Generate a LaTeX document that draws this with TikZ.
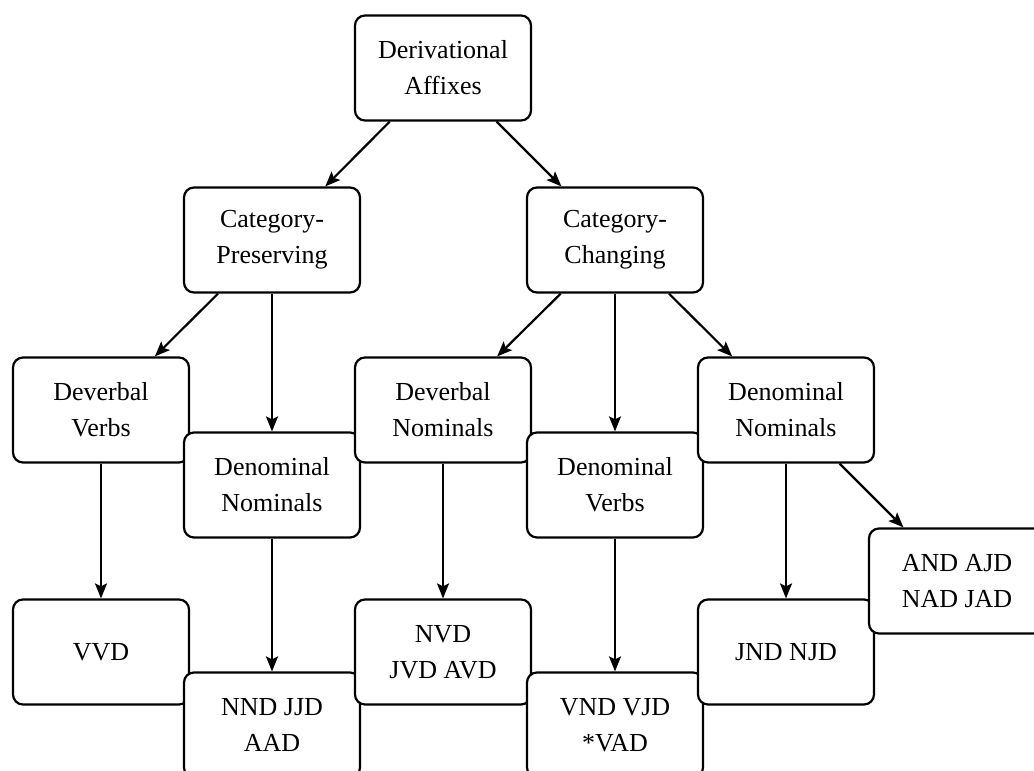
\documentclass[tikz,border=0pt]{standalone}
\usepackage{fontspec}
\setmainfont{Liberation Serif}
\usetikzlibrary{arrows.meta}

\tikzset{
  box/.style={draw, fill=white, line width=2.2pt, rounded corners=10pt,
    minimum width=176pt, minimum height=105pt, inner sep=0pt,
    align=center, font=\fontsize{26}{36}\selectfont},
  link/.style={line width=2.2pt, -{Stealth[length=15pt,width=12pt,inset=3pt]}}
}

\begin{document}
\begin{tikzpicture}[x=1pt,y=-1pt]
  \useasboundingbox (0,0) rectangle (1034,771);
  \clip (0,0) rectangle (1034,771);

  % root and second level
  \node[box] (root) at (443,68)  {Derivational\\Affixes};
  \node[box] (cp)   at (272,240) {Category-\\Preserving};
  \node[box] (cc)   at (615,240) {Category-\\Changing};

  % third level (staggered)
  \node[box] (dvv)  at (101,410) {Deverbal\\Verbs};
  \node[box] (pnn)  at (272,485) {Denominal\\Nominals};
  \node[box] (dvn)  at (443,410) {Deverbal\\Nominals};
  \node[box] (dnv)  at (615,485) {Denominal\\Verbs};
  \node[box] (dnn)  at (786,410) {Denominal\\Nominals};

  % leaves
  \node[box] (vvd)  at (101,652) {VVD};
  \node[box] (nnd)  at (272,725) {NND JJD\\AAD};
  \node[box] (nvd)  at (443,652) {NVD\\JVD AVD};
  \node[box] (vnd)  at (615,725) {VND VJD\\*VAD};
  \node[box] (jnd)  at (786,652) {JND NJD};
  \node[box] (and)  at (957,581) {AND AJD\\NAD JAD};

  % connectors
  \draw[link] (root) -- (cp);
  \draw[link] (root) -- (cc);
  \draw[link] (cp) -- (dvv);
  \draw[link] (cp) -- (pnn);
  \draw[link] (cc) -- (dvn);
  \draw[link] (cc) -- (dnv);
  \draw[link] (cc) -- (dnn);
  \draw[link] (dvv) -- (vvd);
  \draw[link] (pnn) -- (nnd);
  \draw[link] (dvn) -- (nvd);
  \draw[link] (dnv) -- (vnd);
  \draw[link] (dnn) -- (jnd);
  \draw[link] (dnn) -- (and);
\end{tikzpicture}
\end{document}
